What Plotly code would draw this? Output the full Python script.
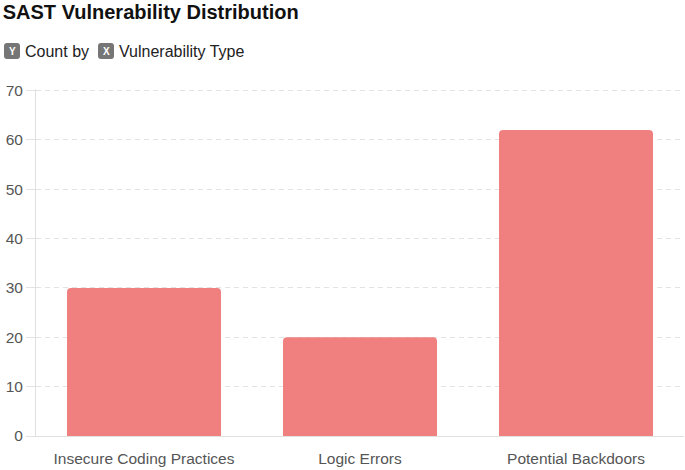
import plotly.graph_objects as go

categories = ["Insecure Coding Practices", "Logic Errors", "Potential Backdoors"]
counts = [30, 20, 62]
y_ticks = [0, 10, 20, 30, 40, 50, 60, 70]

L, T = 36, 89
fig = go.Figure(go.Bar(x=categories, y=counts, marker=dict(color="#F08080", line=dict(width=0)),
                       hoverinfo="x+y"))

FONT = "Liberation Sans, Arial"

def ann(text, px, py, **kw):
    d = dict(text=text, xref="paper", yref="paper", x=0, y=1, xanchor="left", yanchor="middle",
             xshift=px - L, yshift=T - py, showarrow=False)
    d.update(kw)
    fig.add_annotation(**d)

def badge(px0, py0, size=16, r=3):
    # rounded rectangle in pixel coords relative to top-left of plot area
    x0, x1 = px0 - L, px0 - L + size
    y0, y1 = T - py0, T - py0 - size  # upward positive
    path = (f"M{x0+r},{y0} L{x1-r},{y0} Q{x1},{y0} {x1},{y0-r} L{x1},{y1+r} Q{x1},{y1} {x1-r},{y1} "
            f"L{x0+r},{y1} Q{x0},{y1} {x0},{y1+r} L{x0},{y0-r} Q{x0},{y0} {x0+r},{y0} Z")
    fig.add_shape(type="path", xref="paper", yref="paper", xsizemode="pixel", ysizemode="pixel",
                  xanchor=0, yanchor=1, path=path, fillcolor="#767676", line=dict(width=0), layer="above")

badge(4, 43)
ann("<b>Y</b>", 12, 51, xanchor="center", font=dict(family=FONT, size=10, color="white"))
ann("Count by", 23, 51, font=dict(family=FONT, size=16, color="#222"))
badge(98, 43)
ann("<b>X</b>", 106, 51, xanchor="center", font=dict(family=FONT, size=10, color="white"))
ann("Vulnerability Type", 117, 51, font=dict(family=FONT, size=16, color="#222"))

fig.update_layout(
    width=685, height=470,
    margin=dict(l=L, r=1, t=T, b=34),
    paper_bgcolor="white", plot_bgcolor="white",
    title=dict(text="<b>SAST Vulnerability Distribution</b>", x=0.004, xanchor="left",
               y=1 - 12 / 470, yanchor="middle", yref="container",
               font=dict(family=FONT, size=20, color="#111")),
    bargap=0.287,
    barcornerradius=4,
    showlegend=False,
    font=dict(family=FONT, size=15.5, color="#666"),
    xaxis=dict(showline=True, linecolor="#e0e0e0", linewidth=1, ticks="", showgrid=False,
               tickfont=dict(size=15.5, color="#555"), ticklabelstandoff=8),
    yaxis=dict(range=[0, 70.3], tickvals=y_ticks, showline=True, linecolor="#e0e0e0", linewidth=1,
               showgrid=True, gridcolor="#e3e3e3", griddash="5px,4px", gridwidth=1,
               ticks="outside", ticklen=9, tickcolor="#e3e3e3", zeroline=False,
               tickfont=dict(size=15.5, color="#555")),
)
fig.write_html("out.html")
